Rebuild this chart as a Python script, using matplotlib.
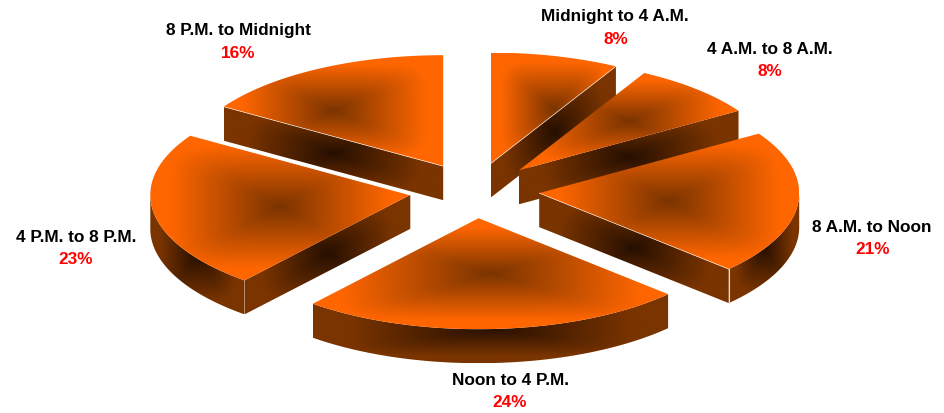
import numpy as np
import matplotlib
matplotlib.use("Agg")
import matplotlib.pyplot as plt
from matplotlib.patches import Polygon

# chart data
periods = ["Midnight to 4 A.M.", "4 A.M. to 8 A.M.", "8 A.M. to Noon",
           "Noon to 4 P.M.", "4 P.M. to 8 P.M.", "8 P.M. to Midnight"]
shares = [8, 8, 21, 24, 23, 16]

# where the label of each slice sits (name x, name y, percent x, percent y)
label_pos = [(615, 16, 616, 39), (770, 50, 770, 72), (872, 228, 873, 250),
             (510, 381, 510, 403), (76, 238, 76, 260), (238, 31, 238, 54)]

# pie geometry in pixels
cx, cy = 474.5, 191.5
rx, ry = 260, 111
explode = 0.25
depth = 34

top_dark, top_light = (122, 52, 0), (255, 102, 0)
wall_dark, wall_light = (38, 15, 0), (122, 52, 0)


def point(x0, y0, ang):
    # angle in degrees, clockwise from the top
    a = np.radians(ang)
    return x0 + rx * np.sin(a), y0 - ry * np.cos(a)


def fill(ax, pts, dark, light, reach, order):
    # gradient from the middle of the polygon's box out to its edges
    pts = np.array(pts)
    x0, y0 = pts.min(axis=0)
    x1, y1 = pts.max(axis=0)
    nx, ny = int(x1 - x0) + 2, int(y1 - y0) + 2
    u = np.abs(np.linspace(-1, 1, nx))
    v = np.abs(np.linspace(-1, 1, ny))
    uu, vv = np.meshgrid(u, v)
    t = (uu ** order + vv ** order) ** (1 / order) / reach
    t = np.clip(t, 0, 1)[..., None]
    rgb = (np.array(dark) + (np.array(light) - np.array(dark)) * t) / 255
    im = ax.imshow(rgb, extent=(x0, x1, y1, y0), aspect="auto", interpolation="bilinear", zorder=2)
    clip = Polygon(pts, closed=True, transform=ax.transData, fc="none", ec="none")
    ax.add_patch(clip)
    im.set_clip_path(clip)


def wall(ax, top_pts):
    bottom = [(x, y + depth) for x, y in reversed(top_pts)]
    fill(ax, list(top_pts) + bottom, wall_dark, wall_light, 0.8, 5)


fig = plt.figure(figsize=(9.45, 4.14), dpi=100)
ax = fig.add_axes([0, 0, 1, 1])

# start and end angle of every slice
ends = np.cumsum(shares) * 3.6
starts = ends - np.array(shares) * 3.6

slices = []
for i in range(len(shares)):
    mid = np.radians((starts[i] + ends[i]) / 2)
    ax0 = cx + explode * rx * np.sin(mid)
    ay0 = cy - explode * ry * np.cos(mid)
    slices.append((ay0, ax0, starts[i], ends[i], i))

# slices whose front edge has the thin white line
white_edges = ("Midnight to 4 A.M.", "8 A.M. to Noon", "8 P.M. to Midnight")

# back slices first so the front ones cover them
for ay0, ax0, a0, a1, i in sorted(slices):
    arc = [point(ax0, ay0, a) for a in np.arange(a0, a1 + 0.5, 1.0)]
    arc[-1] = point(ax0, ay0, a1)

    # side walls that face the viewer
    front = []
    if a0 > 180:
        wall(ax, [(ax0, ay0), arc[0]])
        front.append([(ax0, ay0), arc[0]])
    if a1 < 180:
        wall(ax, [(ax0, ay0), arc[-1]])
        front.append([(ax0, ay0), arc[-1]])
    lo, hi = max(a0, 90), min(a1, 270)
    if hi > lo:
        wall(ax, [point(ax0, ay0, a) for a in np.linspace(lo, hi, 80)])

    fill(ax, [(ax0, ay0)] + arc, top_dark, top_light, 0.85, 6)

    if periods[i] in white_edges:
        for seg in front:
            xs, ys = zip(*seg)
            ax.plot(xs, ys, color="white", lw=0.5, alpha=0.8, zorder=3)
    if periods[i] == "8 A.M. to Noon":
        x, y = arc[-1]
        ax.plot([x, x], [y, y + depth], color="#f0d8c8", lw=0.8, zorder=3)
    if periods[i] == "4 P.M. to 8 P.M.":
        xs, ys = zip((ax0, ay0), arc[-1])
        ax.plot(xs, ys, color="white", lw=0.7, zorder=3)

for name, share, (nx, ny, px, py) in zip(periods, shares, label_pos):
    ax.text(nx, ny, name, ha="center", va="center", fontsize=12.4, fontweight="bold",
            family="Liberation Sans", color="black", zorder=5)
    ax.text(px, py, f"{share}%", ha="center", va="center", fontsize=12.4, fontweight="bold",
            family="Liberation Sans", color="#ff0000", zorder=5)

ax.set_xlim(0, 945)
ax.set_ylim(414, 0)
ax.axis("off")

plt.savefig("out.png", dpi=100)
